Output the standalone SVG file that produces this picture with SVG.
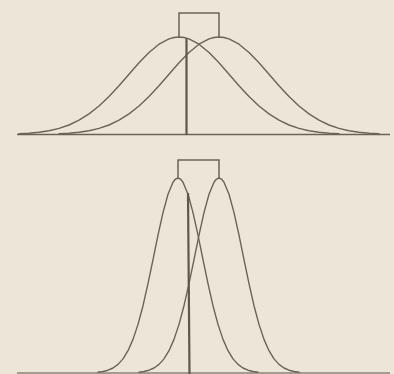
<svg xmlns="http://www.w3.org/2000/svg" width="394" height="374" viewBox="0 0 394 374">
<style>
.c{fill:none;stroke:#6a6457;stroke-width:1.4;stroke-linejoin:round;stroke-linecap:round}
.b{fill:none;stroke:#6a6457;stroke-width:1.5}
.v{fill:none;stroke:#5f594d;stroke-width:2.2}
</style>
<rect x="0" y="0" width="394" height="374" fill="#ece6d8"/>
<g id="top-panel">
<line class="b" x1="17" y1="134.5" x2="390" y2="134.5"/>
<path class="c" d="M19 133.8 L29 133.2 L39 132.25 L49 130.7 L59 128.4 L69 125 L79 120.2 L89 113.9 L99 106 L109 96.5 L119 85.7 L129 74.2 L139 62.8 L149 52.5 L159 44.2 L169 38.9 L174 37.5 L179 37 L184 37.5 L189 38.9 L199 44.2 L209 52.5 L219 62.8 L229 74.2 L239 85.7 L249 96.5 L259 106 L269 113.9 L279 120.2 L289 125 L299 128.4 L309 130.7 L319 132.25 L329 133.2 L339 133.8"/>
<path class="c" d="M59 133.8 L69 133.2 L79 132.25 L89 130.7 L99 128.4 L109 125 L119 120.2 L129 113.9 L139 106 L149 96.5 L159 85.7 L169 74.2 L179 62.8 L189 52.5 L199 44.2 L209 38.9 L214 37.5 L219 37 L224 37.5 L229 38.9 L239 44.2 L249 52.5 L259 62.8 L269 74.2 L279 85.7 L289 96.5 L299 106 L309 113.9 L319 120.2 L329 125 L339 128.4 L349 130.7 L359 132.25 L369 133.2 L379 133.8"/>
<path class="b" d="M179 37 V13 H219 V37"/>
<line class="v" x1="186.5" y1="38.5" x2="186.5" y2="135"/>
</g>
<g id="bottom-panel">
<line x1="17" y1="373" x2="390" y2="373" stroke="#8a8478" stroke-width="1.5"/>
<path class="c" d="M98 372.3 L103 371.5 L108 370.2 L113 368 L118 364.4 L123 358.9 L128 350.7 L133 339.4 L138 324.4 L143 305.7 L148 283.7 L153 259.6 L158 235.2 L163 212.6 L168 194.2 L173 182.2 L175.5 179.05 L178 178 L180.5 179.05 L183 182.2 L188 194.2 L193 212.6 L198 235.2 L203 259.6 L208 283.7 L213 305.7 L218 324.4 L223 339.4 L228 350.7 L233 358.9 L238 364.4 L243 368 L248 370.2 L253 371.5 L258 372.3"/>
<path class="c" d="M139 372.3 L144 371.5 L149 370.2 L154 368 L159 364.4 L164 358.9 L169 350.7 L174 339.4 L179 324.4 L184 305.7 L189 283.7 L194 259.6 L199 235.2 L204 212.6 L209 194.2 L214 182.2 L216.5 179.05 L219 178 L221.5 179.05 L224 182.2 L229 194.2 L234 212.6 L239 235.2 L244 259.6 L249 283.7 L254 305.7 L259 324.4 L264 339.4 L269 350.7 L274 358.9 L279 364.4 L284 368 L289 370.2 L294 371.5 L299 372.3"/>
<path class="b" d="M178 178 V160 H219 V178"/>
<line class="v" x1="188" y1="193" x2="189.5" y2="374"/>
</g>
</svg>
